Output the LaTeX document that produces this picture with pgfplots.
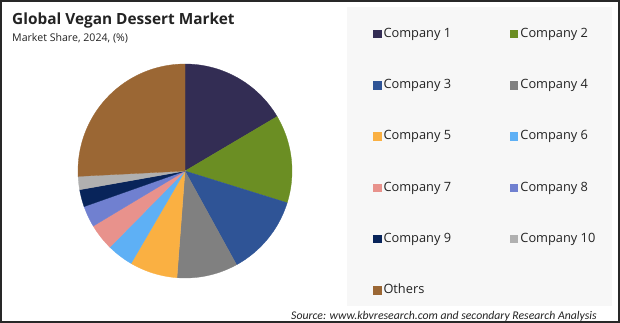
\documentclass[border=0pt]{standalone}
\usepackage{pgfplots}
\pgfplotsset{compat=1.18}
\usepackage{pgfplotstable}
\usepackage{fontspec}
\setmainfont{Open Sans}
\newfontfamily\carlito{Carlito}

\definecolor{pie0}{RGB}{51,45,84}
\definecolor{pie1}{RGB}{107,142,35}
\definecolor{pie2}{RGB}{47,84,150}
\definecolor{pie3}{RGB}{128,128,128}
\definecolor{pie4}{RGB}{250,176,66}
\definecolor{pie5}{RGB}{94,176,245}
\definecolor{pie6}{RGB}{232,146,140}
\definecolor{pie7}{RGB}{112,128,208}
\definecolor{pie8}{RGB}{8,36,90}
\definecolor{pie9}{RGB}{176,176,176}
\definecolor{pie10}{RGB}{155,103,52}
\definecolor{panel}{RGB}{247,247,247}
\definecolor{frame}{RGB}{40,40,40}
\definecolor{txt}{RGB}{35,35,35}

\pgfplotstableread[col sep=comma]{
label,value
Company 1,16.5
Company 2,13.3
Company 3,12.2
Company 4,9.2
Company 5,7.2
Company 6,4.0
Company 7,4.0
Company 8,3.2
Company 9,2.6
Company 10,2.0
Others,25.8
}\piedata

\begin{document}
\begin{tikzpicture}
\path[use as bounding box] (0,0) rectangle (620bp,-323bp);
\fill[white] (0,0) rectangle (620bp,-323bp);
\fill[panel] (347bp,-7bp) rectangle (612bp,-306bp);

\node[anchor=base west, inner sep=0, text=txt, font=\fontsize{15.4bp}{17bp}\selectfont\bfseries] at (12bp,-24.3bp) {Global Vegan Dessert Market};
\node[anchor=base west, inner sep=0, text=txt, font=\fontsize{10.6bp}{12bp}\selectfont] at (12bp,-41.5bp) {Market Share, 2024, (\%)};
\node[anchor=base west, inner sep=0, text=txt, font=\carlito\fontsize{11.75bp}{14bp}\selectfont\itshape] at (291bp,-319bp) {Source: www.kbvresearch.com and secondary Research Analysis};

\begin{axis}[
  at={(185bp,-171bp)}, anchor=center,
  x=107bp, y=107bp,
  xmin=-1, xmax=1, ymin=-1, ymax=1,
  enlargelimits=false,
  hide axis, clip=false,
  legend entries={Company 1,Company 2,Company 3,Company 4,Company 5,Company 6,Company 7,Company 8,Company 9,Company 10,Others},
  legend columns=2,
  legend cell align=left,
  legend image code/.code={\fill[#1] (0bp,-3.75bp) rectangle (7.5bp,3.75bp);},
  legend style={
    at={(axis description cs:1.3785,1.1715)}, anchor=north west,
    draw=none, fill=none, inner sep=0pt, outer sep=0pt,
    font=\fontsize{12.8bp}{14bp}\selectfont, text=txt,
    nodes={inner sep=0pt, text height=10bp, text depth=3bp},
    row sep=38.25bp,
    /tikz/every odd column/.append style={column sep=2.7bp},
    /tikz/every even column/.append style={column sep=58.8bp},
  },
]
\gdef\cum{0}
\pgfplotsinvokeforeach{0,...,10}{
  \pgfplotstablegetelem{#1}{value}\of\piedata
  \pgfmathsetmacro\sa{90-3.6*\cum}
  \pgfmathsetmacro\ea{90-3.6*(\cum+\pgfplotsretval)}
  \pgfmathsetmacro\newcum{\cum+\pgfplotsretval}
  \global\let\cum\newcum
  \edef\slice{\noexpand\addplot[fill=pie#1, draw=pie#1, line width=0.3bp, domain=\ea:\sa, samples=60] ({cos(x)},{sin(x)}) -- (axis cs:0,0) -- cycle;}
  \slice
}
\end{axis}

\draw[frame, line width=2bp] (1bp,-1bp) rectangle (619bp,-322bp);
\end{tikzpicture}
\end{document}
